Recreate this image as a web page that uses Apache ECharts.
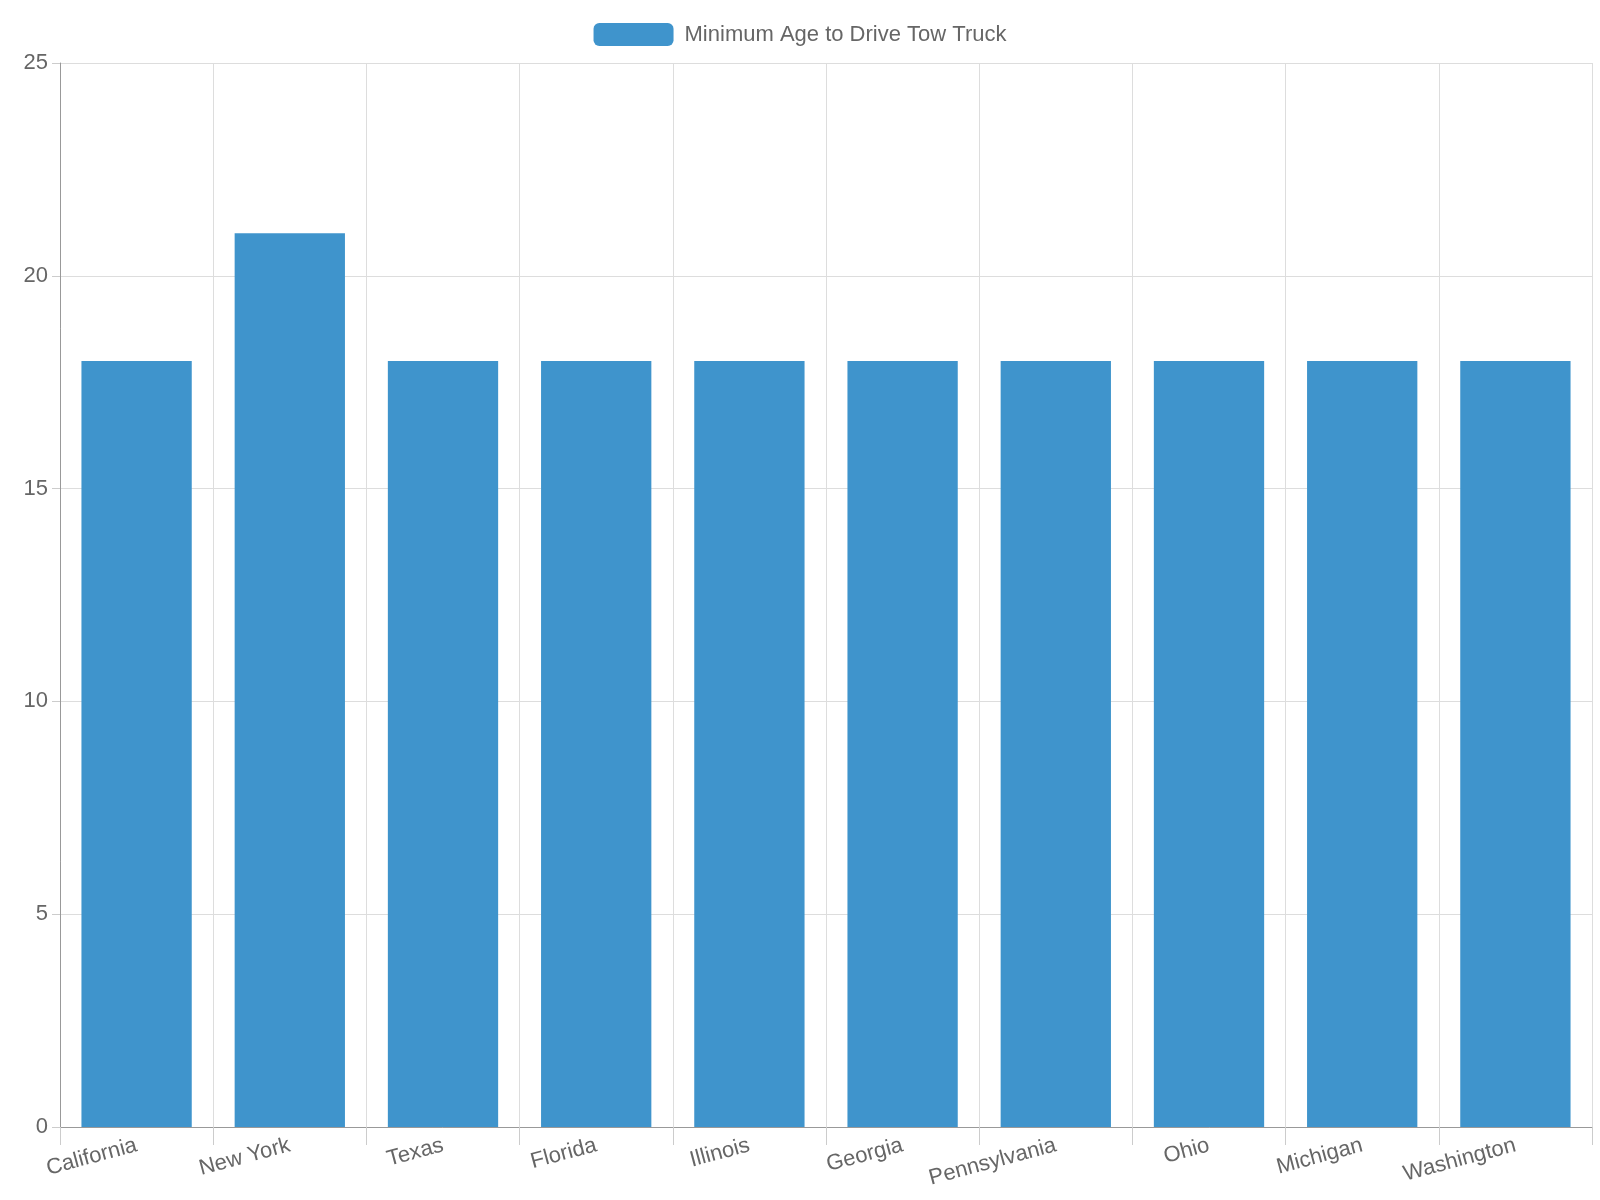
<!DOCTYPE html>
<html><head><meta charset="utf-8">
<script src="https://cdn.jsdelivr.net/npm/echarts@6/dist/echarts.min.js"></script>
<style>html,body{margin:0;padding:0;background:#fff}#c{width:1600px;height:1200px}</style>
</head><body><div id="c"></div>
<script>
const categories = ["California","New York","Texas","Florida","Illinois","Georgia","Pennsylvania","Ohio","Michigan","Washington"];
const minAge = [18,21,18,18,18,18,18,18,18,18];
const seriesName = "Minimum Age to Drive Tow Truck";
const chart = echarts.init(document.getElementById('c'));
chart.setOption({
  animation:false,
  textStyle:{fontFamily:'"Liberation Sans", Arial, sans-serif'},
  legend:{top:18,left:'center',itemWidth:80,itemHeight:23,itemGap:10,
    itemStyle:{borderRadius:0},
    textStyle:{fontSize:22,color:'#666',padding:[0,0,0,6]},data:[seriesName]},
  grid:{left:60,right:8,top:63,bottom:73},
  xAxis:{type:'category',data:categories,
    axisLine:{lineStyle:{color:'#999'}},
    axisTick:{show:true,length:18,lineStyle:{color:'#ccc'}},
    splitLine:{show:true,lineStyle:{color:'#ddd'}},
    axisLabel:{rotate:15,fontSize:22,color:'#666',margin:18,interval:0}},
  yAxis:{type:'value',min:0,max:25,interval:5,
    axisLine:{show:true,lineStyle:{color:'#999'}},
    axisTick:{show:true,length:8,lineStyle:{color:'#ccc'}},
    splitLine:{lineStyle:{color:'#ddd'}},
    axisLabel:{fontSize:22,color:'#666',margin:12}},
  series:[{name:seriesName,type:'bar',data:minAge,barWidth:'72%',
    itemStyle:{color:'#3f94cc'}}]
});
</script></body></html>
